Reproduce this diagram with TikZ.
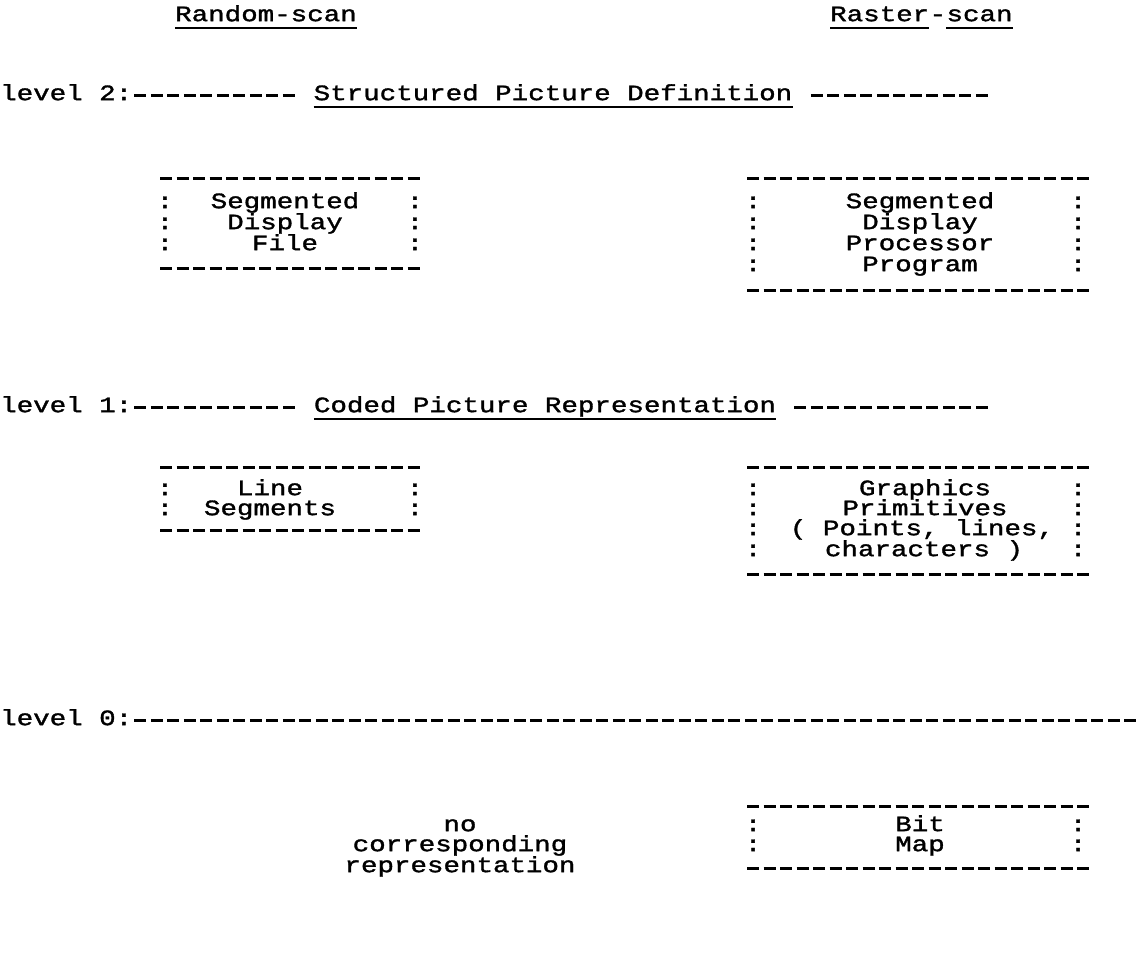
\documentclass[tikz,border=0pt]{standalone}
\usepackage{fontspec}
\newfontfamily\tw[FakeBold=1.5,FakeStretch=1.25]{Liberation Mono}
\begin{document}
\begin{tikzpicture}[x=1pt,y=-1pt,
  tw/.style={font=\tw\fontsize{22}{24}\selectfont, inner sep=0pt, anchor=mid, text height=12.5pt, text depth=3.5pt},
  twl/.style={tw, anchor=mid west},
  rule/.style={line width=3pt, dash pattern=on 12pt off 4.5pt},
  ul/.style={line width=1.8pt}]
\useasboundingbox (0,0) rectangle (1139,953);

% column headings
\node[tw] (rand) at (266,19) {Random-scan};
\draw[ul] ([yshift=-7pt]rand.base west) -- ([yshift=-7pt]rand.base east);
\node[twl] (ras1) at (830,19) {Raster};
\node[tw, anchor=base west] (ras2) at (ras1.base east) {-};
\node[tw, anchor=base west] (ras3) at (ras2.base east) {scan};
\draw[ul] ([yshift=-7pt]ras1.base west) -- ([yshift=-7pt]ras1.base east);
\draw[ul] ([yshift=-7pt]ras3.base west) -- ([yshift=-7pt]ras3.base east);

% level 2
\node[twl] (lv2) at (0,98) {level 2:};
\node[tw] (spd) at (553,98) {Structured Picture Definition};
\draw[ul] ([yshift=-7pt]spd.base west) -- ([yshift=-7pt]spd.base east);
\draw[rule] (134.25,95) -- (294.75,95);
\draw[rule] (810.75,95) -- (987.75,95);

% left box level 2
\draw[rule] (160,178) -- (419.5,178);
\draw[rule] (160,268) -- (419.5,268);
\foreach \y/\n in {206/a,227/b,248/c}{
  \node[tw] (sdfl\n) at (165,\y) {:};
  \node[tw] (sdfr\n) at (415,\y) {:};
}
\node[tw] (sdf1) at (285,206) {Segmented};
\node[tw] (sdf2) at (285,227) {Display};
\node[tw] (sdf3) at (285,248) {File};

% right box level 2
\draw[rule] (747,178) -- (1089,178);
\draw[rule] (747,290) -- (1089,290);
\foreach \y/\n in {206/a,227/b,248/c,269/d}{
  \node[tw] (sdpl\n) at (753,\y) {:};
  \node[tw] (sdpr\n) at (1078,\y) {:};
}
\node[tw] (sdp1) at (920,206) {Segmented};
\node[tw] (sdp2) at (920,227) {Display};
\node[tw] (sdp3) at (920,248) {Processor};
\node[tw] (sdp4) at (920,269) {Program};

% level 1
\node[twl] (lv1) at (0,410) {level 1:};
\node[tw] (cpr) at (545,410) {Coded Picture Representation};
\draw[ul] ([yshift=-7pt]cpr.base west) -- ([yshift=-7pt]cpr.base east);
\draw[rule] (134.25,407) -- (294.75,407);
\draw[rule] (794.25,407) -- (987.75,407);

% left box level 1
\draw[rule] (160,467) -- (419.5,467);
\draw[rule] (160,530) -- (419.5,530);
\foreach \y/\n in {493/a,513/b}{
  \node[tw] (lsl\n) at (165,\y) {:};
  \node[tw] (lsr\n) at (415,\y) {:};
}
\node[tw] (ls1) at (270,493) {Line};
\node[tw] (ls2) at (270,513) {Segments};

% right box level 1
\draw[rule] (747,467) -- (1089,467);
\draw[rule] (747,574) -- (1089,574);
\foreach \y/\n in {493/a,513/b,533/c,554/d}{
  \node[tw] (gpl\n) at (753,\y) {:};
  \node[tw] (gpr\n) at (1078,\y) {:};
}
\node[tw] (gp1) at (925,493) {Graphics};
\node[tw] (gp2) at (925,513) {Primitives};
\node[tw] (gp3) at (922,533) {( Points, lines,};
\node[tw] (gp4) at (924,554) {characters )};

% level 0
\node[twl] (lv0) at (0,723) {level 0:};
\draw[rule] (134.25,720) -- (1136.25,720);

% bit map box
\draw[rule] (747,806) -- (1089,806);
\draw[rule] (747,868) -- (1089,868);
\foreach \y/\n in {829/a,849/b}{
  \node[tw] (bml\n) at (753,\y) {:};
  \node[tw] (bmr\n) at (1078,\y) {:};
}
\node[tw] (bm1) at (920,829) {Bit};
\node[tw] (bm2) at (920,849) {Map};

% no corresponding representation
\node[tw] (nc1) at (460,829) {no};
\node[tw] (nc2) at (460,849) {corresponding};
\node[tw] (nc3) at (460,870) {representation};
\end{tikzpicture}
\end{document}
